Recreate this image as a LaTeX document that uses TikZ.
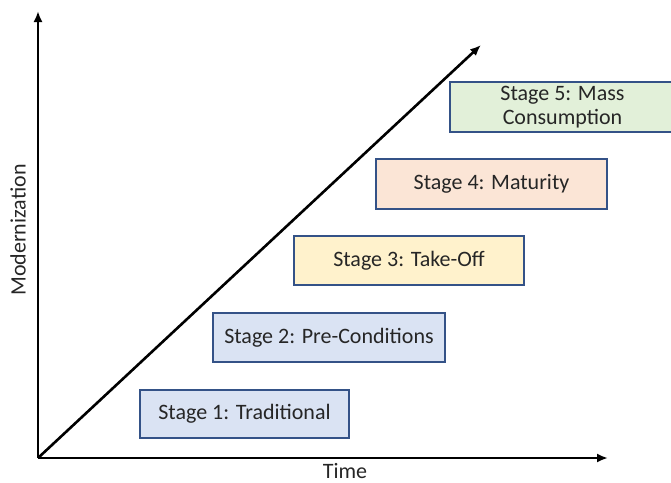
\documentclass[tikz,border=0pt]{standalone}
\usepackage{fontspec}
\setmainfont{Carlito}
\usetikzlibrary{positioning,arrows.meta}
\definecolor{sL}{RGB}{52,82,135}
\definecolor{s1F}{RGB}{218,227,243}
\definecolor{s3F}{RGB}{255,242,204}
\definecolor{s4F}{RGB}{251,229,214}
\definecolor{s5F}{RGB}{226,240,217}
\begin{document}
\begin{tikzpicture}[
  x=1pt, y=-1pt,
  font=\fontsize{22}{24}\selectfont,
  stage/.style={draw=sL, line width=2.2pt, align=center, inner sep=2pt, text=black!85},
  axis/.style={-{Latex[length=11pt,width=9pt]}, line width=2.6pt},
]
\useasboundingbox (0,0) rectangle (671,482);

% ---- axes ----
\coordinate (o)    at (38,458);
\coordinate (ytop) at (38,11);
\coordinate (xend) at (608,458);
\coordinate (dtop) at (481,45);
\draw[axis] (o) -- (ytop);
\draw[axis] (o) -- (xend);
\draw[axis] (o) -- (dtop);
\node[text=black!85, inner sep=0pt, anchor=base] (time) at (345,478) {Time};
\node[rotate=90, text=black!85] (modern) at (18,230) {Modernization};

% ---- stages ----
\node[stage, fill=s1F, minimum width=209pt, minimum height=48pt] (s1) at (244.5,414) {Stage 1: Traditional};
\node[stage, fill=s1F, minimum width=232pt, minimum height=49pt] (s2) at (329,337.5) {Stage 2: Pre-Conditions};
\node[stage, fill=s3F, minimum width=230pt, minimum height=49pt] (s3) at (409,260.5) {Stage 3: Take-Off};
\node[stage, fill=s4F, minimum width=231pt, minimum height=50pt] (s4) at (491.5,184) {Stage 4: Maturity};
\node[stage, fill=s5F, minimum width=225pt, minimum height=50pt] (s5) at (562.5,107) {Stage 5: Mass\\Consumption};

\end{tikzpicture}
\end{document}
